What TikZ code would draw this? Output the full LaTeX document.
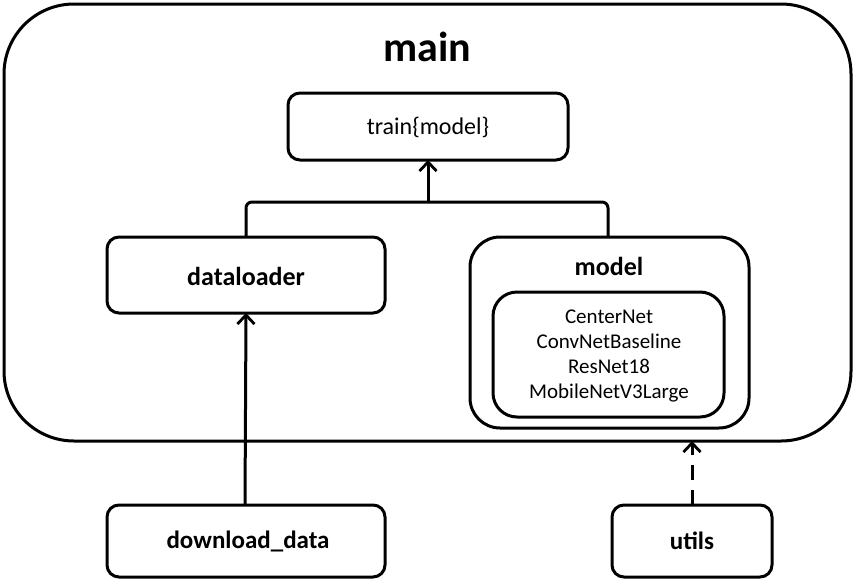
\documentclass[tikz,border=0pt]{standalone}
\usepackage{fontspec}
\setmainfont{Carlito}
\usetikzlibrary{arrows.meta}
\begin{document}
\begin{tikzpicture}[x=1pt,y=-1pt,
  box/.style={draw=black,line width=3pt,rounded corners=#1},
  box/.default=12pt,
  conn/.style={line width=3pt,-{Straight Barb[length=9pt,width=17pt,line width=2.8pt]}},
  lbl/.style={font=\fontsize{26}{30}\selectfont\bfseries},
  txt/.style={font=\fontsize{21}{25}\selectfont, align=center}]
\useasboundingbox (0,0) rectangle (856,581);
% main container
\draw[box=70pt] (4,4) rectangle (851,441);
\node[font=\fontsize{42}{48}\selectfont\bfseries] (maint) at (427,47) {main};
\coordinate (mainbot) at (692,441);
% train
\draw[box] (288,93) rectangle (568,160);
\node[txt,font=\fontsize{24}{28}\selectfont] (train) at (428,127) {train\{model\}};
\coordinate (trainbot) at (428,160);
% dataloader
\draw[box] (107,237) rectangle (385,313);
\node[lbl] (dl) at (246,276) {dataloader};
\coordinate (dltop) at (246,237);
\coordinate (dlbot) at (246,313);
% model
\draw[box=30pt] (470,237) rectangle (749,428);
\node[lbl] (model) at (609,266) {model};
\coordinate (mtop) at (608,237);
\draw[box=24pt] (493,292) rectangle (724,417);
\node[txt] (mlist) at (609,356) {CenterNet\\ConvNetBaseline\\ResNet18\\MobileNetV3Large};
% download_data
\draw[box] (107,505) rectangle (385,577);
\node[lbl,font=\fontsize{25}{29}\selectfont\bfseries] (dd) at (248,541) {download\_data};
\coordinate (ddtop) at (245,505);
% utils
\draw[box] (612,505) rectangle (772,577);
\node[lbl,font=\fontsize{25}{29}\selectfont\bfseries] (ut) at (692,541) {utils};
\coordinate (uttop) at (692,505);
% connectors
\coordinate (joint) at (428,202);
\draw[line width=3pt,rounded corners=6pt] (dltop) -- (246,202) -- (608,202) -- (mtop);
\draw[conn] (joint) -- (trainbot);
\draw[conn] (ddtop) -- (dlbot);
\draw[conn,dash pattern=on 15pt off 10pt] (uttop) -- (mainbot);
\end{tikzpicture}
\end{document}
